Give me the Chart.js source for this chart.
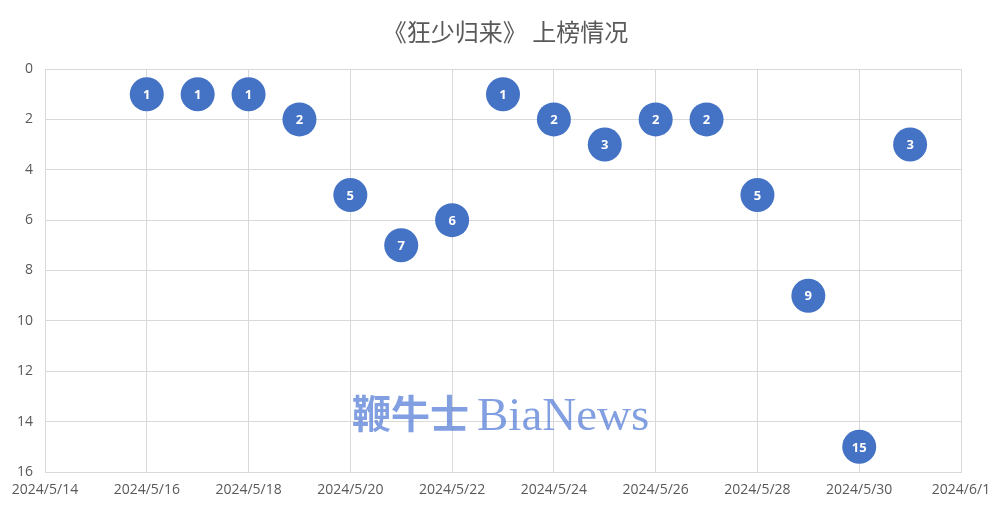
<!DOCTYPE html>
<html>
<head>
<meta charset="utf-8">
<script src="https://cdn.jsdelivr.net/npm/chart.js@4/dist/chart.umd.min.js"></script>
<style>
  html, body { margin: 0; padding: 0; background: #ffffff; }
  #wrap { width: 1003px; height: 518px; position: relative; }
</style>
</head>
<body>
<div id="wrap"><canvas id="c" width="1003" height="518"></canvas></div>
<script>
// Daily chart position of 《狂少归来》
const dates = ['2024/5/16','2024/5/17','2024/5/18','2024/5/19','2024/5/20','2024/5/21','2024/5/22','2024/5/23',
               '2024/5/24','2024/5/25','2024/5/26','2024/5/27','2024/5/28','2024/5/29','2024/5/30','2024/5/31'];
const ranks = [1, 1, 1, 2, 5, 7, 6, 1, 2, 3, 2, 2, 5, 9, 15, 3];

const startDate = '2024/5/14';
const endDate = '2024/6/1';
const titleText = '《狂少归来》 上榜情况';
const watermark = ['鞭牛士', 'BiaNews'];

const DAY = 86400000;
function toDate(s) { const [y, m, d] = s.split('/').map(Number); return Date.UTC(y, m - 1, d); }
const t0 = toDate(startDate);
const dayIndex = s => Math.round((toDate(s) - t0) / DAY);
function fmtDay(n) {
  const d = new Date(t0 + n * DAY);
  return d.getUTCFullYear() + '/' + (d.getUTCMonth() + 1) + '/' + d.getUTCDate();
}

const points = dates.map((d, i) => ({ x: dayIndex(d), y: ranks[i] }));

// title centred across the whole canvas
const headTitle = {
  id: 'headTitle',
  afterDraw(chart) {
    const ctx = chart.ctx;
    ctx.save();
    ctx.fillStyle = '#595959';
    ctx.font = '24px "Noto Sans CJK SC", sans-serif';
    ctx.textAlign = 'center';
    ctx.textBaseline = 'middle';
    ctx.fillText(titleText, chart.width / 2 + 4, 32);
    ctx.restore();
  }
};

// value labels inside each bubble
const valueLabels = {
  id: 'valueLabels',
  afterDatasetsDraw(chart) {
    const ctx = chart.ctx;
    const meta = chart.getDatasetMeta(0);
    ctx.save();
    ctx.fillStyle = '#ffffff';
    ctx.font = 'bold 13px "Open Sans", "Liberation Sans", sans-serif';
    ctx.textAlign = 'center';
    ctx.textBaseline = 'middle';
    meta.data.forEach((el, i) => {
      ctx.fillText(String(ranks[i]), el.x, el.y + 1);
    });
    ctx.restore();
  }
};

// brand mark over the plot
const brandMark = {
  id: 'brandMark',
  afterDatasetsDraw(chart) {
    const ctx = chart.ctx;
    ctx.save();
    ctx.fillStyle = 'rgba(80, 122, 214, 0.72)';
    ctx.textBaseline = 'alphabetic';
    ctx.textAlign = 'left';
    ctx.font = 'bold 39px "Noto Sans CJK SC", sans-serif';
    ctx.fillText(watermark[0], 352, 428);
    ctx.font = '47px "Liberation Serif", "DejaVu Serif", serif';
    ctx.fillText(watermark[1], 477, 430);
    ctx.restore();
  }
};

new Chart(document.getElementById('c'), {
  type: 'scatter',
  data: {
    datasets: [{
      data: points,
      backgroundColor: '#4472C4',
      borderColor: '#4472C4',
      pointRadius: 17,
      pointHoverRadius: 17,
      borderWidth: 0
    }]
  },
  options: {
    responsive: false,
    animation: false,
    layout: { padding: { left: 0, right: 42, top: 69, bottom: 0 } },
    plugins: {
      legend: { display: false },
      tooltip: { enabled: false },
      title: { display: false }
    },
    scales: {
      x: {
        type: 'linear',
        min: 0,
        max: dayIndex(endDate),
        afterFit(s) { s.height = 46; },
        ticks: {
          stepSize: 2,
          padding: 10,
          color: '#595959',
          font: { size: 14, family: '"Open Sans", "Liberation Sans", sans-serif' },
          maxRotation: 0,
          callback: v => fmtDay(v)
        },
        grid: { color: '#d9d9d9', drawTicks: false },
        border: { color: '#d9d9d9' }
      },
      y: {
        reverse: true,
        min: 0,
        max: 16,
        afterFit(s) { s.width = 45; },
        ticks: {
          stepSize: 2,
          padding: 12,
          color: '#595959',
          font: { size: 14, family: '"Open Sans", "Liberation Sans", sans-serif' }
        },
        grid: { color: '#d9d9d9', drawTicks: false },
        border: { color: '#d9d9d9' }
      }
    }
  },
  plugins: [valueLabels, brandMark, headTitle]
});
</script>
</body>
</html>
